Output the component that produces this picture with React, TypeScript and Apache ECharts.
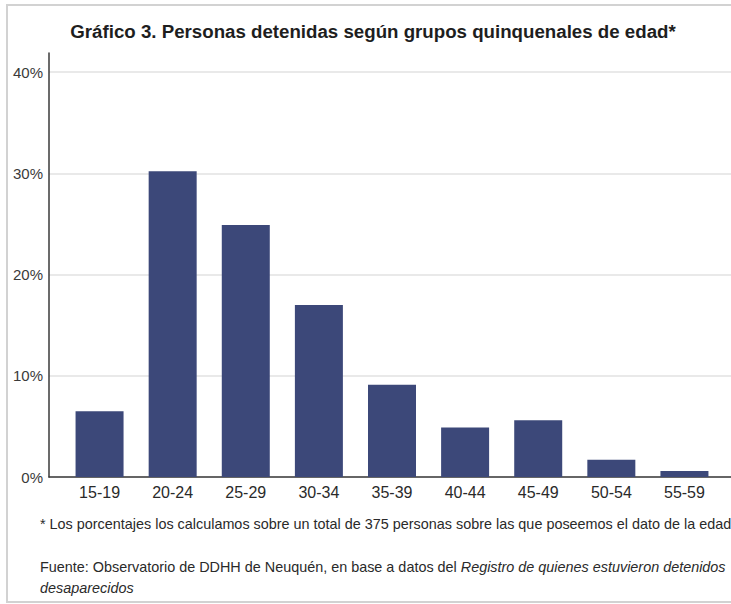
import React, { useEffect, useRef } from "react";
import * as echarts from "echarts";

const title = "Gráfico 3. Personas detenidas según grupos quinquenales de edad*";
const categories = ["15-19", "20-24", "25-29", "30-34", "35-39", "40-44", "45-49", "50-54", "55-59"];
const values = [6.5, 30.2, 24.9, 17.0, 9.1, 4.9, 5.6, 1.7, 0.6];
const yTicks = [0, 10, 20, 30, 40];
const footnote = "* Los porcentajes los calculamos sobre un total de 375 personas sobre las que poseemos el dato de la edad";
const sourcePlain = "Fuente: Observatorio de DDHH de Neuquén, en base a datos del ";
const sourceItalic1 = "Registro de quienes estuvieron detenidos";
const sourceItalic2 = "desaparecidos";

const FONT = "'Liberation Sans', Arial, sans-serif";

export default function App() {
  const ref = useRef<HTMLDivElement>(null);
  useEffect(() => {
    document.body.style.margin = "0";
    const chart = echarts.init(ref.current!, null, { renderer: "svg" });
    const yMax = yTicks[yTicks.length - 1];
    chart.setOption({
      animation: false,
      backgroundColor: "#ffffff",
      textStyle: { fontFamily: FONT },
      grid: [
        { left: 49, right: 0, top: 53, bottom: 127 },
        { left: 49, right: 0, top: 72, bottom: 127 },
        { left: 63, right: 10, top: 72, bottom: 127 },
      ],
      xAxis: [
        {
          gridIndex: 0, type: "value", min: 0, max: 1,
          axisLine: { show: true, lineStyle: { color: "#3a3a3a", width: 1.5 } },
          axisTick: { show: false }, axisLabel: { show: false }, splitLine: { show: false },
        },
        {
          gridIndex: 1, type: "value", min: 0, max: 1, show: false,
        },
        {
          gridIndex: 2, type: "category", data: categories,
          axisLine: { show: false }, axisTick: { show: false },
          axisLabel: { color: "#2a2a2a", fontSize: 16, margin: 7, fontFamily: FONT },
        },
      ],
      yAxis: [
        {
          gridIndex: 0, type: "value", min: 0, max: 41.88,
          axisLine: { show: true, lineStyle: { color: "#3a3a3a", width: 1.5 } },
          axisTick: { show: false }, axisLabel: { show: false }, splitLine: { show: false },
        },
        {
          gridIndex: 1, type: "value", min: 0, max: yMax, interval: 10,
          axisLine: { show: false }, axisTick: { show: false },
          axisLabel: { color: "#3a3a3a", fontSize: 15, margin: 6, formatter: "{value}%", fontFamily: FONT },
          splitLine: { show: true, lineStyle: { color: "#e2e2e2", width: 1.5 } },
        },
        {
          gridIndex: 2, type: "value", min: 0, max: yMax, show: false,
        },
      ],
      series: [
        {
          type: "bar", xAxisIndex: 2, yAxisIndex: 2, data: values,
          barWidth: 48,
          itemStyle: { color: "#3c4879" },
        },
      ],
      graphic: [
        {
          type: "rect", silent: true,
          shape: { x: 7, y: 5, width: 780, height: 597 },
          style: { fill: "none", stroke: "#d2d2d2", lineWidth: 2 },
          z: -1,
        },
        {
          type: "text", x: 373, y: 31,
          style: {
            text: title, fill: "#1e1e1e", font: `bold 18.7px ${FONT}`,
            align: "center", verticalAlign: "middle",
          },
        },
        {
          type: "text", x: 40, y: 524,
          style: {
            text: footnote, fill: "#2a2a2a", font: `14.4px ${FONT}`,
            verticalAlign: "middle",
          },
        },
        {
          type: "text", x: 40, y: 567,
          style: {
            text: `{n|${sourcePlain}}{i|${sourceItalic1}}`,
            verticalAlign: "middle",
            rich: {
              n: { fill: "#2a2a2a", fontSize: 14.4, fontFamily: FONT },
              i: { fill: "#2a2a2a", fontSize: 14.4, fontFamily: FONT, fontStyle: "italic" },
            },
          },
        },
        {
          type: "text", x: 40, y: 588,
          style: {
            text: sourceItalic2, fill: "#2a2a2a", font: `italic 14.4px ${FONT}`,
            verticalAlign: "middle",
          },
        },
      ],
    });
    return () => chart.dispose();
  }, []);
  return <div ref={ref} style={{ width: 731, height: 604 }} />;
}
